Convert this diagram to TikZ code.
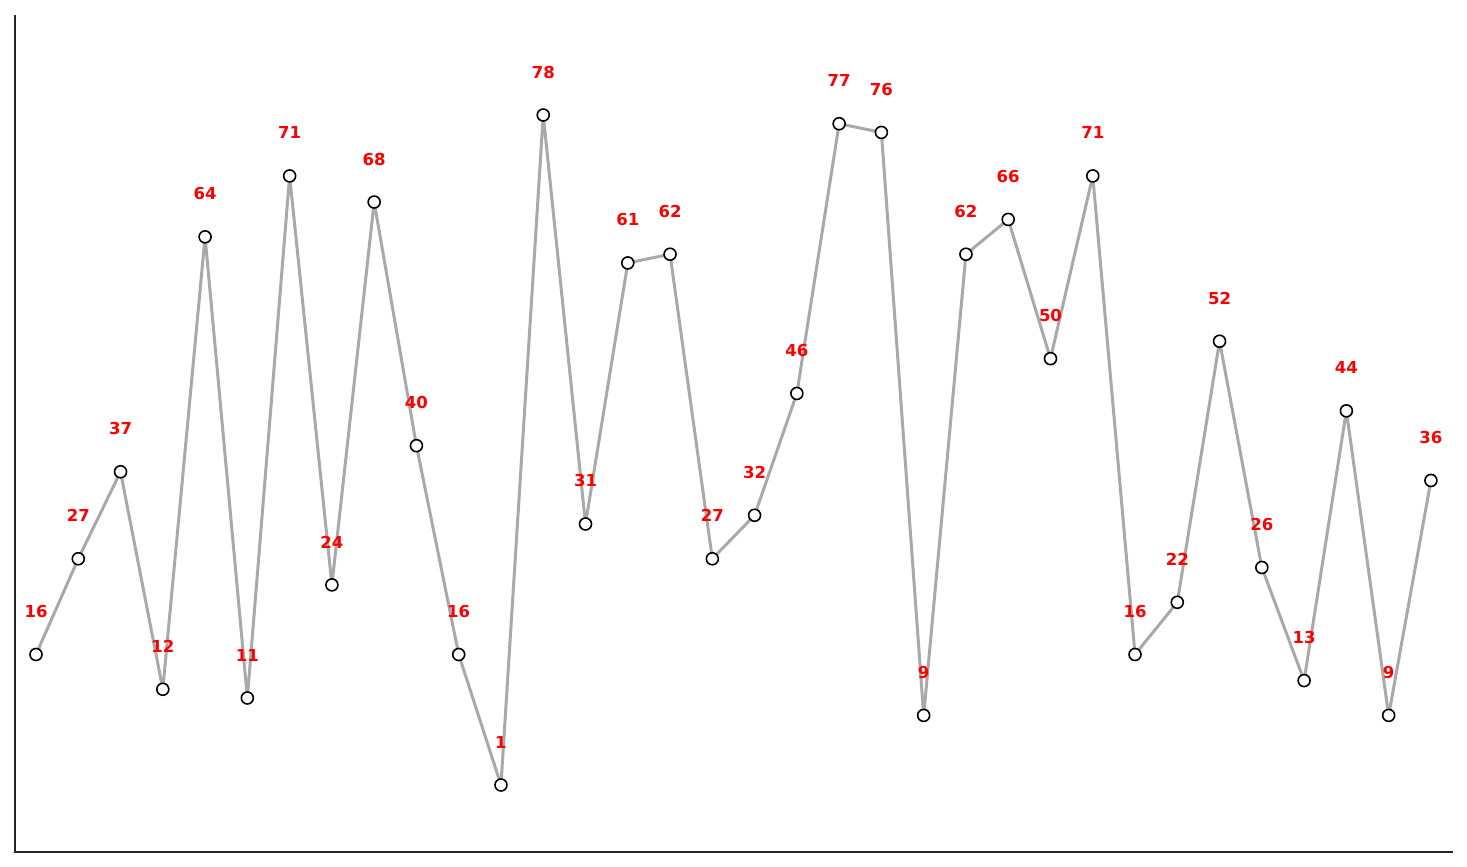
\documentclass[tikz,border=0pt]{standalone}
\usepackage{fontspec}
\setmainfont{DejaVu Sans}
\definecolor{linegray}{HTML}{A9A9A9}
\definecolor{axisgray}{HTML}{262626}
\begin{document}
\begin{tikzpicture}[x=1pt,y=-1pt,
  pt/.style={circle,draw=black,fill=white,line width=1.6pt,inner sep=0pt,minimum size=12pt},
  lbl/.style={text=red,font=\bfseries\fontsize{16.5}{18}\selectfont,inner sep=0pt},
  conn/.style={draw=linegray,line width=3pt,line join=round},
  axis/.style={draw=axisgray,line width=2pt}]
\useasboundingbox (0,0) rectangle (1467,867);
\coordinate (ytop) at (15,15);
\coordinate (origin) at (15,852);
\coordinate (xend) at (1453,852);
\draw[axis] (ytop) -- (origin) -- (xend);
\foreach \v [count=\i from 0] in {16,27,37,12,64,11,71,24,68,40,16,1,78,31,61,62,27,32,46,77,76,9,62,66,50,71,16,22,52,26,13,44,9,36}{
  \pgfmathsetmacro\px{36+\i*42.27}
  \pgfmathsetmacro\py{785-(\v-1)*8.701}
  \coordinate (c\i) at (\px,\py);
}
\draw[conn] (c0) \foreach \i in {1,...,33}{ -- (c\i)};
\foreach \v [count=\i from 0] in {16,27,37,12,64,11,71,24,68,40,16,1,78,31,61,62,27,32,46,77,76,9,62,66,50,71,16,22,52,26,13,44,9,36}{
  \node[pt] (p\i) at (c\i) {};
  \path (c\i) ++(0,-43) node[lbl] (l\i) {\v};
}
\end{tikzpicture}
\end{document}
